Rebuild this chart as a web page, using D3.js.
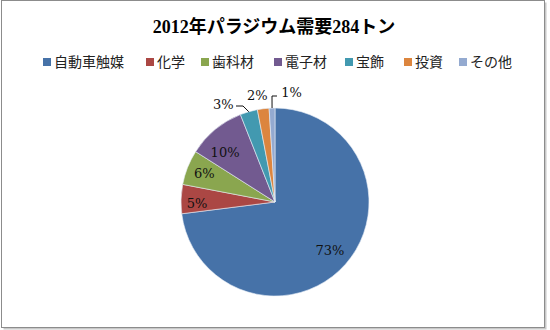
<!DOCTYPE html>
<html>
<head>
<meta charset="utf-8">
<script src="https://cdn.jsdelivr.net/npm/d3@7/dist/d3.min.js"></script>
<style>
  html, body { margin: 0; padding: 0; background: #fff; }
  svg { display: block; }
</style>
</head>
<body>
<svg id="chart" width="550" height="330"></svg>
<script>
// Palladium demand 2012 by use (share of 284 t)
const title = "2012年パラジウム需要284トン";
const categories = ["自動車触媒", "化学", "歯科材", "電子材", "宝飾", "投資", "その他"];
const shares = [73, 5, 6, 10, 3, 2, 1];
const colors = ["#4672a8", "#ab4744", "#8aa64f", "#725a90", "#4299b0", "#dc853e", "#94aad0"];

const svg = d3.select("#chart");

// chart frame with a soft shadow on the right/bottom
svg.append("rect").attr("x", 3.5).attr("y", 2.5).attr("width", 543).attr("height", 327)
  .attr("fill", "#c8c8c8");
svg.append("rect").attr("x", 1.5).attr("y", 0.5).attr("width", 543).attr("height", 327)
  .attr("fill", "#fff").attr("stroke", "#8c8c8c").attr("stroke-width", 1);

const serif = "'Liberation Serif', 'DejaVu Serif', 'Noto Sans CJK JP', serif";
const labelFont = "'DejaVu Serif', 'Liberation Serif', serif";
const gothic = "'Noto Sans CJK JP', 'Noto Sans', sans-serif";

svg.append("text")
  .attr("x", 274).attr("y", 33)
  .attr("text-anchor", "middle")
  .attr("font-family", serif)
  .attr("font-weight", "bold")
  .attr("font-size", 18)
  .attr("fill", "#000")
  .text(title);

// legend: one row
const legend = svg.append("g").attr("transform", "translate(0,62)");
const legendX = [43, 146, 201, 274, 345, 404, 459];
const items = legend.selectAll("g.item").data(categories).join("g")
  .attr("class", "item")
  .attr("transform", (d, i) => `translate(${legendX[i]},0)`);
items.append("rect")
  .attr("x", 0).attr("y", -4).attr("width", 8).attr("height", 8)
  .attr("fill", (d, i) => colors[i]);
items.append("text")
  .attr("x", 11).attr("y", 5)
  .attr("font-family", gothic)
  .attr("font-size", 14)
  .attr("fill", "#222")
  .text(d => d);

// pie, clockwise from 12 o'clock
const cx = 275, cy = 202, R = 94;
const pie = d3.pie().sort(null).value(d => d)(shares);
const arc = d3.arc().innerRadius(0).outerRadius(R);

const g = svg.append("g").attr("transform", `translate(${cx},${cy})`);
g.selectAll("path").data(pie).join("path")
  .attr("d", arc)
  .attr("fill", (d, i) => colors[i])
  .attr("stroke", "#e8eef6")
  .attr("stroke-width", 0.6);

// percentage labels: radius factor along the slice bisector plus a small nudge
const labelR = [0.78, 0.83, 0.81, 0.75, 1.17, 1.17, 1.17];
const labelShift = [[0, 0], [0, 4], [0, 0], [-5, 5], [-21, 8], [-4, 3], [20, 0]];
g.selectAll("text.pct").data(pie).join("text")
  .attr("class", "pct")
  .attr("text-anchor", "middle")
  .attr("dominant-baseline", "central")
  .attr("font-family", labelFont)
  .attr("font-size", 13)
  .attr("fill", "#111")
  .attr("transform", (d, i) => {
    const a = (d.startAngle + d.endAngle) / 2;
    const r = R * labelR[i];
    return `translate(${Math.sin(a) * r + labelShift[i][0]},${-Math.cos(a) * r + labelShift[i][1]})`;
  })
  .text(d => d.value + "%");

// leader lines for the small outside labels (3% and 1%)
function leader(i, pts) {
  const d = pie[i];
  const a = (d.startAngle + d.endAngle) / 2;
  const edge = [Math.sin(a) * R, -Math.cos(a) * R];
  g.append("path")
    .attr("d", d3.line()([...pts, edge]))
    .attr("fill", "none")
    .attr("stroke", "#111")
    .attr("stroke-width", 1);
}
leader(4, [[236 - cx, 106 - cy], [243 - cx, 106 - cy]]);
leader(6, [[277 - cx, 96 - cy], [272 - cx, 96 - cy]]);
</script>
</body>
</html>
